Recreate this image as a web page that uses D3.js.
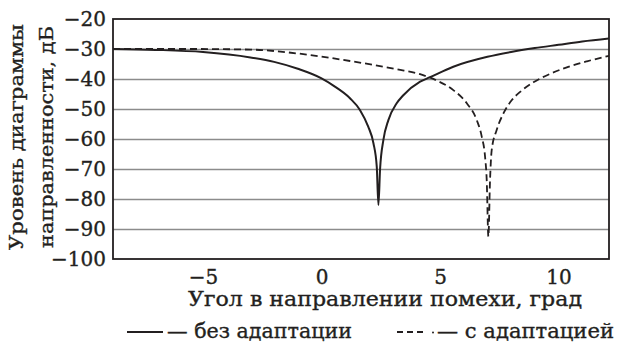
<!DOCTYPE html>
<html>
<head>
<meta charset="utf-8">
<script src="https://cdn.jsdelivr.net/npm/d3@7"></script>
<style>
body{margin:0;background:#fff;}
svg text{font-family:"DejaVu Serif",serif;fill:#231f20;stroke:#231f20;stroke-width:0.35px;}
</style>
</head>
<body>
<svg id="chart" width="618" height="344"></svg>
<script>
// without adaptation (solid)
var solidAngle=[-8.8,-7,-5,-3,-2,-1,0,0.5,1.2,1.62,1.97,2.19,2.33,2.40,2.47,2.61,2.82,3.17,3.44,4.16,4.58,5.56,7,8,9,10,11,12.13];
var solidDb=[-30,-30.3,-31,-32.8,-34.3,-36.6,-39.8,-42.2,-46.4,-50.3,-55.9,-61.4,-69.2,-82,-70,-60.3,-53.7,-48.1,-45.5,-40.9,-39.4,-35.9,-32.6,-31,-29.7,-28.6,-27.5,-26.5];
// with adaptation (dashed)
var dashAngle=[-8.8,-5.5,-3,-1,1.2,3.2,4.16,4.86,5.56,6.13,6.55,6.76,6.90,6.97,7.04,7.11,7.18,7.39,7.68,8.03,8.38,8.94,9.64,10.35,11.2,12.13];
var dashDb=[-30,-30,-30.2,-31.5,-34,-36.8,-38.4,-40.5,-43.7,-48.1,-53.7,-59.2,-65.9,-73.7,-92.5,-73.7,-63.7,-57,-51.4,-47,-44.3,-41.1,-38.3,-36.1,-34.1,-32.3];
var yTicks=[-20,-30,-40,-50,-60,-70,-80,-90,-100];
var xTicks=[-5,0,5,10];
var yTitle=['Уровень диаграммы','направленности, дБ'];
var xTitle='Угол в направлении помехи, град';
var legendLabels=['— без адаптации','— с адаптацией'];

var ink='#231f20';
var svg=d3.select('#chart');
var pL=113,pR=609,pT=19,pB=259;

var x=d3.scaleLinear().domain([-8.8,12.13]).range([pL,pR]);
var y=d3.scaleLinear().domain([-100,-20]).range([pB,pT]);

// grid lines
svg.append('g')
  .attr('transform','translate('+pL+',0)')
  .call(d3.axisLeft(y).tickValues(yTicks.slice(1,-1)).tickSize(-(pR-pL)).tickFormat(''))
  .call(function(g){
    g.select('.domain').remove();
    g.selectAll('line').attr('stroke','#8c8c8c').attr('stroke-width',1.4);
  });

// y labels
svg.append('g')
  .attr('transform','translate('+pL+',0)')
  .call(d3.axisLeft(y).tickValues(yTicks).tickSize(0).tickPadding(7))
  .call(function(g){
    g.select('.domain').remove();
    g.selectAll('text').attr('font-size',20).attr('font-family','DejaVu Serif').attr('fill',ink);
  });

// x labels
svg.append('g')
  .attr('transform','translate(0,'+pB+')')
  .call(d3.axisBottom(x).tickValues(xTicks).tickSize(0).tickPadding(11))
  .call(function(g){
    g.select('.domain').remove();
    g.selectAll('text').attr('font-size',20).attr('font-family','DejaVu Serif').attr('fill',ink);
  });

// frame
svg.append('rect')
  .attr('x',pL).attr('y',pT)
  .attr('width',pR-pL).attr('height',pB-pT)
  .attr('fill','none').attr('stroke',ink).attr('stroke-width',1.8);

var line=d3.line()
  .x(function(d){return x(d[0]);})
  .y(function(d){return y(d[1]);})
  .curve(d3.curveMonotoneX);

svg.append('path')
  .datum(d3.zip(solidAngle,solidDb))
  .attr('d',line)
  .attr('fill','none').attr('stroke',ink).attr('stroke-width',2);

svg.append('path')
  .datum(d3.zip(dashAngle,dashDb))
  .attr('d',line)
  .attr('fill','none').attr('stroke',ink).attr('stroke-width',1.8)
  .attr('stroke-dasharray','7,4');

// axis titles
var yt=svg.append('text')
  .attr('transform','translate(0,137) rotate(-90)')
  .attr('text-anchor','middle')
  .attr('font-size',19);
yt.append('tspan').attr('x',0).attr('y',23).attr('textLength',226).attr('lengthAdjust','spacingAndGlyphs').text(yTitle[0]);
yt.append('tspan').attr('x',0).attr('y',53).attr('textLength',222).attr('lengthAdjust','spacingAndGlyphs').text(yTitle[1]);

svg.append('text')
  .attr('x',385).attr('y',306)
  .attr('text-anchor','middle')
  .attr('font-size',20)
  .attr('textLength',394).attr('lengthAdjust','spacingAndGlyphs')
  .text(xTitle);

// legend
svg.append('line')
  .attr('x1',127).attr('x2',163).attr('y1',332).attr('y2',332)
  .attr('stroke',ink).attr('stroke-width',2);
svg.append('text').attr('x',167).attr('y',338).attr('font-size',20)
  .attr('textLength',185).attr('lengthAdjust','spacingAndGlyphs').text(legendLabels[0]);
svg.append('line')
  .attr('x1',397).attr('x2',427).attr('y1',332).attr('y2',332)
  .attr('stroke',ink).attr('stroke-width',1.8).attr('stroke-dasharray','6,4');
svg.append('circle').attr('cx',433).attr('cy',332.5).attr('r',1).attr('fill',ink);
svg.append('text').attr('x',437).attr('y',338).attr('font-size',20)
  .attr('textLength',177).attr('lengthAdjust','spacingAndGlyphs').text(legendLabels[1]);
</script>
</body>
</html>
